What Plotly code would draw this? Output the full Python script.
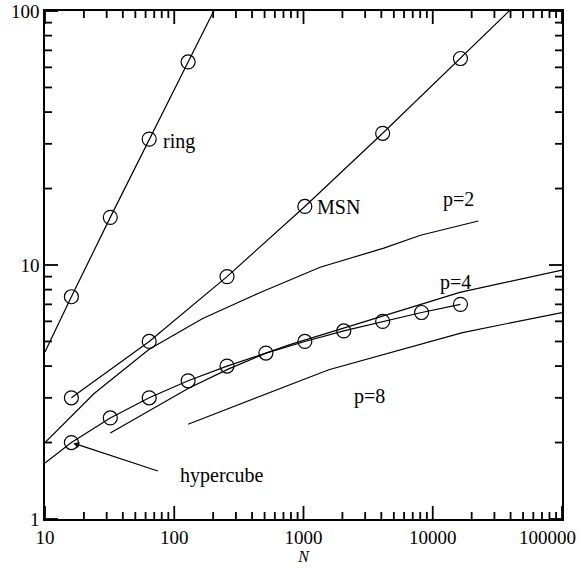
import numpy as np
import plotly.graph_objects as go

# ---- data ----
ring_N = [16, 32, 64, 128]
ring_t = [7.5, 15.4, 31.3, 63.0]
ring_line_N = [10, 16, 32, 64, 128, 256]
ring_line_t = [4.55, 7.5, 15.4, 31.3, 63.0, 127.0]

msn_N = [16, 64, 256, 1024, 4096, 16384]
msn_t = [3.0, 5.0, 9.0, 17.0, 33.0, 65.0]
msn_line_N = [16, 64, 256, 1024, 4096, 16384, 65536]
msn_line_t = [3.0, 5.0, 9.0, 17.0, 33.0, 65.0, 129.0]

hyper_N = [16, 32, 64, 128, 256, 512, 1024, 2048, 4096, 8192, 16384]
hyper_t = [2.0, 2.5, 3.0, 3.5, 4.0, 4.5, 5.0, 5.5, 6.0, 6.5, 7.0]
hyper_line_N = [10] + hyper_N
hyper_line_t = [1.66] + hyper_t

p2_N = [10, 24, 64, 166, 458, 1345, 4180, 8050, 22500]
p2_t = [2.0, 3.12, 4.66, 6.16, 7.78, 9.8, 11.65, 13.1, 14.9]

p4_N = [32, 90, 129, 264, 512, 774, 4110, 16200, 100000]
p4_t = [2.18, 2.95, 3.27, 3.9, 4.5, 4.85, 6.3, 7.8, 9.55]

p8_N = [128, 767, 1570, 17000, 100000]
p8_t = [2.36, 3.35, 3.87, 5.42, 6.5]

x_major = [10, 100, 1000, 10000, 100000]
x_major_text = ["10", "100", "1000", "10000", ""]
x_last_label = "100000"
x_minor = [m * 10 ** k for k in range(1, 5) for m in range(2, 10)]
y_major = [1, 10, 100]
y_major_text = ["1", "10", "100"]
y_minor = [m * 10 ** k for k in range(0, 2) for m in range(2, 10)]

labels = ["ring", "MSN", "p=2", "p=4", "p=8", "hypercube"]

# ---- layout constants ----
FONT = "Liberation Serif"
LW = 1.2
W, H = 581, 571
ML, MR, MT, MB = 45, 19, 11, 52
XR, YR = [1, 5], [0, 2]
PX_PER_XDEC = (W - ML - MR) / (XR[1] - XR[0])
PX_PER_YDEC = (H - MT - MB) / (YR[1] - YR[0])
MAJOR_LEN, MINOR_LEN = 13, 7

fig = go.Figure()

def line(xs, ys):
    fig.add_trace(go.Scatter(x=xs, y=ys, mode="lines",
                             line=dict(color="black", width=LW),
                             hoverinfo="skip", showlegend=False))

def marks(xs, ys):
    fig.add_trace(go.Scatter(x=xs, y=ys, mode="markers",
                             marker=dict(symbol="circle-open", size=14,
                                         color="black", line=dict(width=1.2)),
                             showlegend=False))

line(ring_line_N, ring_line_t); marks(ring_N, ring_t)
line(msn_line_N, msn_line_t); marks(msn_N, msn_t)
line(hyper_line_N, hyper_line_t); marks(hyper_N, hyper_t)
line(p2_N, p2_t)
line(p4_N, p4_t)
line(p8_N, p8_t)

# inside tick marks on all four sides (drawn from the tick value lists)
tx, ty = [], []
x_lo, x_hi = 10 ** XR[0], 10 ** XR[1]
y_lo, y_hi = 10 ** YR[0], 10 ** YR[1]
for vals, ln in ((x_major, MAJOR_LEN), (x_minor, MINOR_LEN)):
    f = 10 ** (ln / PX_PER_YDEC)
    for v in vals:
        tx += [v, v, None, v, v, None]
        ty += [y_lo, y_lo * f, None, y_hi, y_hi / f, None]
for vals, ln in ((y_major, MAJOR_LEN), (y_minor, MINOR_LEN)):
    f = 10 ** (ln / PX_PER_XDEC)
    for v in vals:
        tx += [x_lo, x_lo * f, None, x_hi, x_hi / f, None]
        ty += [v, v, None, v, v, None]
fig.add_trace(go.Scatter(x=tx, y=ty, mode="lines", line=dict(color="black", width=1.8),
                         hoverinfo="skip", showlegend=False))

axis_common = dict(type="log", showgrid=False, zeroline=False, showline=True,
                   linecolor="black", linewidth=1.6, mirror=True, ticks="",
                   tickfont=dict(family=FONT, size=19, color="black"))

fig.update_layout(
    template="none",
    xaxis=dict(range=XR, tickmode="array", tickvals=x_major, ticktext=x_major_text,
               title=dict(text="<i>N</i>", font=dict(family=FONT, size=16, color="black"),
                          standoff=2),
               **axis_common),
    yaxis=dict(range=YR, tickmode="array", tickvals=y_major, ticktext=y_major_text,
               **axis_common),
)

# last x tick label, shifted left to fit inside the page as in the reference
fig.add_annotation(x=1.0, y=0, xref="paper", yref="paper", text=x_last_label,
                   showarrow=False, xanchor="right", yanchor="top", xshift=16, yshift=-6,
                   font=dict(family=FONT, size=19, color="black"))

# label positions in paper coordinates
pos = {
    "ring": (0.2244, 0.744, "left"),
    "MSN": (0.5222, 0.6148, "left"),
    "p=2": (0.7994, 0.628, "center"),
    "p=4": (0.7946, 0.4646, "center"),
    "p=8": (0.627, 0.2421, "center"),
    "hypercube": (0.2578, 0.0866, "left"),
}
for lab in labels:
    x, y, xa = pos[lab]
    fig.add_annotation(x=x, y=y, xref="paper", yref="paper", text=lab, showarrow=False,
                       xanchor=xa, yanchor="middle",
                       font=dict(family=FONT, size=20, color="black"))

# arrow pointing at the first hypercube point
fig.add_annotation(x=np.log10(hyper_N[0]), y=np.log10(hyper_t[0]), xref="x", yref="y",
                   text="", showarrow=True, ax=88, ay=29, axref="pixel", ayref="pixel",
                   arrowhead=2, arrowsize=1, arrowwidth=1.2, arrowcolor="black", standoff=2)

fig.update_layout(width=W, height=H, margin=dict(l=ML, r=MR, t=MT, b=MB),
                  paper_bgcolor="white", plot_bgcolor="white",
                  font=dict(family=FONT, color="black"), showlegend=False)

fig.write_html("out.html")
